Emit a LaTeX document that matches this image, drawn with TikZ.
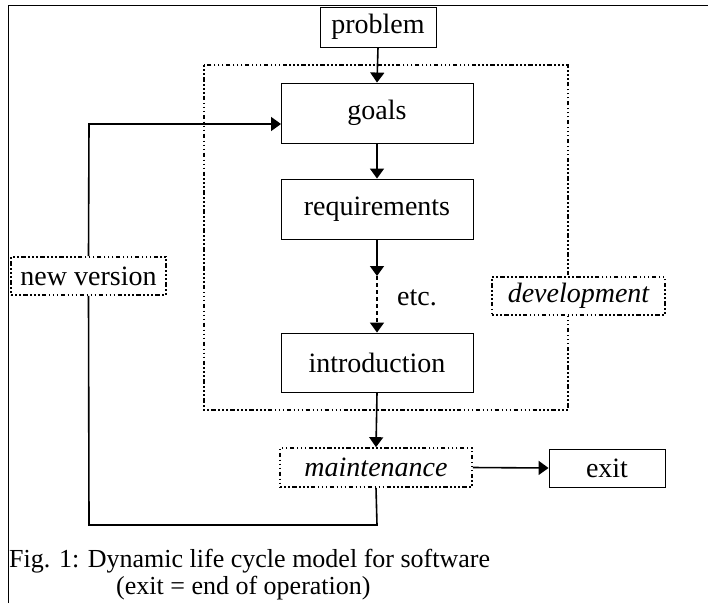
\documentclass[tikz,border=0pt]{standalone}
\usepackage{fontspec}
\setmainfont{Liberation Serif}
\usetikzlibrary{arrows.meta}
\begin{document}
\begin{tikzpicture}[x=1pt,y=-1pt,
  boxfont/.style={font=\fontsize{28}{32}\selectfont},
  solidbox/.style={draw,line width=0.9pt,fill=white,inner sep=0pt,boxfont},
  dotpat/.style={dash pattern=on 1.6pt off 2.4pt on 1.6pt off 2.4pt on 1.6pt off 2.4pt on 4.5pt off 2.4pt},
  dotbox/.style={draw,line width=1.7pt,fill=white,inner sep=0pt,boxfont,dotpat},
  dotline/.style={line width=1.4pt,dotpat},
  arr/.style={line width=1.6pt,-{Triangle[length=10pt,width=14pt]}},
  plain/.style={line width=1.6pt}]
\useasboundingbox (0,0) rectangle (708,603);
% frame
\draw[line width=1pt] (8,603) -- (8,5) -- (708,5);
% development region
\draw[dotline] (204,65) rectangle (568,410);
% nodes
\node[solidbox,minimum width=116pt,minimum height=40pt] (problem) at (378,27) {problem};
\node[solidbox,minimum width=192pt,minimum height=60pt] (goals) at (377,113) {goals};
\node[solidbox,minimum width=192pt,minimum height=60pt] (req) at (377,209) {requirements};
\node[solidbox,minimum width=192pt,minimum height=59pt] (intro) at (377,362.5) {introduction};
\node[dotbox,minimum width=173pt,minimum height=38pt] (dev) at (578.5,296) {\itshape development};
\node[dotbox,minimum width=155pt,minimum height=38pt] (newv) at (88.5,276) {new version};
\node[dotbox,minimum width=192pt,minimum height=39pt] (maint) at (376,467.5) {\itshape maintenance};
\node[solidbox,minimum width=116pt,minimum height=38pt] (exit) at (607,468) {exit};
\node[boxfont,inner sep=0pt] (etc) at (417,298) {etc.};
% connectors
\coordinate (mid) at (377,276);
\coordinate (loopR) at (377,525);
\coordinate (loopL) at (89,525);
\coordinate (fbTop) at (89,124);
\coordinate (goalsIn) at (281,124);
\draw[arr] (problem.south) -- (goals.north);
\draw[arr] (goals.south) -- (req.north);
\draw[arr] (req.south) -- (mid);
\draw[arr,dash pattern=on 4pt off 3pt] (mid) -- (intro.north);
\draw[arr] (intro.south) -- (maint.north);
\draw[arr] (maint.east) -- (exit.west);
\draw[plain] (maint.south) -- (loopR) -- (loopL) -- (newv.south);
\draw[arr] (newv.north) -- (fbTop) -- (goalsIn);
% caption
\node[anchor=base west,inner sep=0pt,font=\fontsize{26}{30}\selectfont] (cap1) at (9,567) {Fig. 1: Dynamic life cycle model for software};
\node[anchor=base west,inner sep=0pt,font=\fontsize{26}{30}\selectfont] (cap2) at (116,594) {(exit = end of operation)};
\end{tikzpicture}
\end{document}
